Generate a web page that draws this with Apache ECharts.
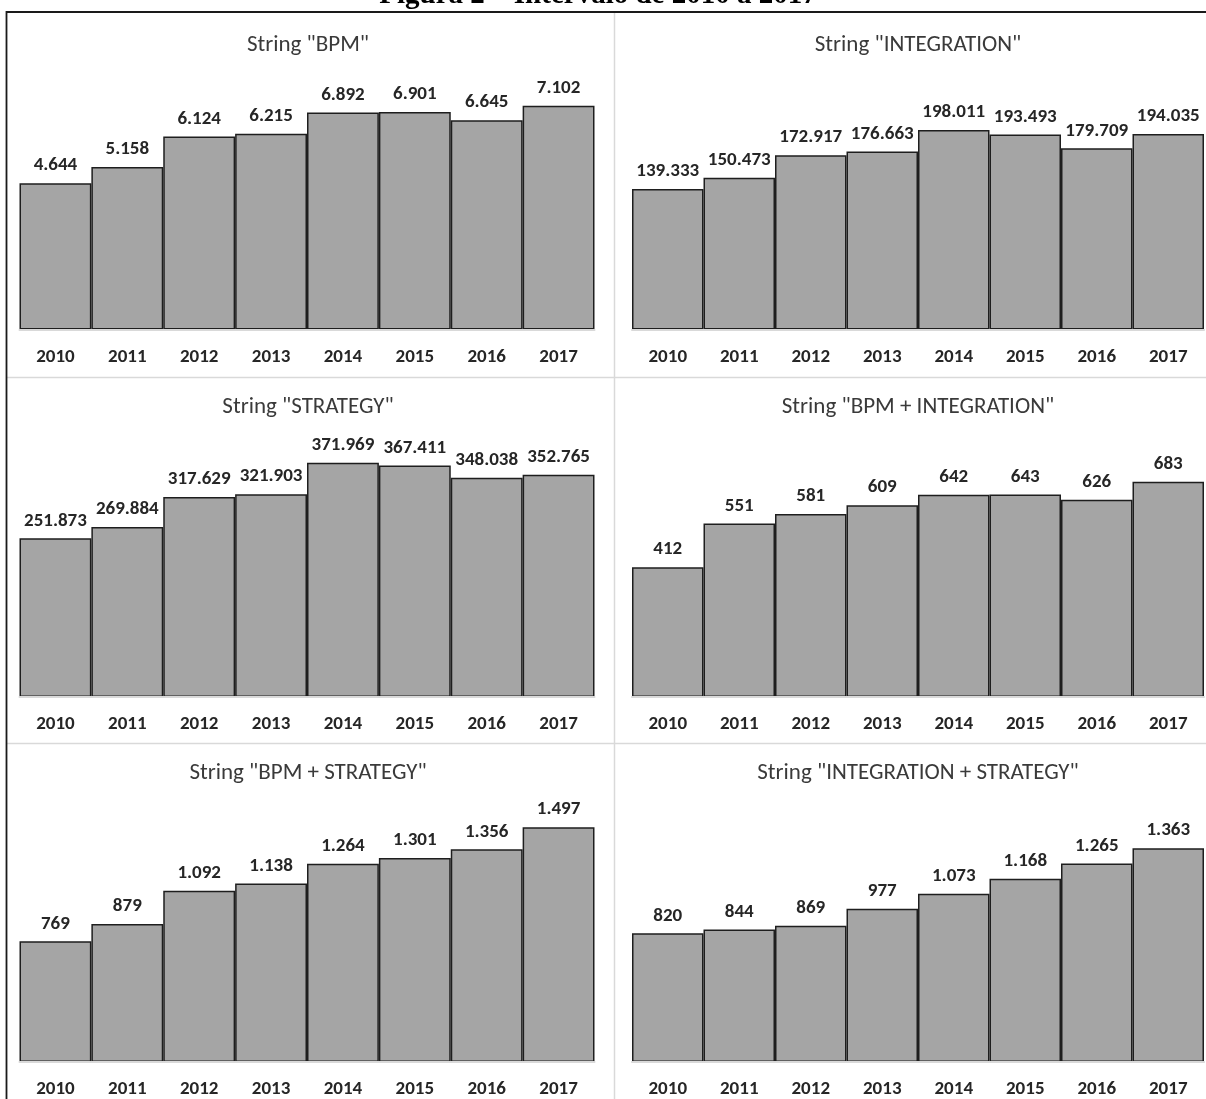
<!DOCTYPE html>
<html>
<head>
<meta charset="utf-8">
<script src="https://cdn.jsdelivr.net/npm/echarts@6/dist/echarts.min.js"></script>
<style>
  html, body { margin: 0; padding: 0; background: #fff; }
  #chart { width: 1206px; height: 1099px; }
</style>
</head>
<body>
<div id="chart"></div>
<script>
// Yearly hit counts for each search string, 2010-2017
const years = ['2010', '2011', '2012', '2013', '2014', '2015', '2016', '2017'];
const bpm = [4644, 5158, 6124, 6215, 6892, 6901, 6645, 7102];
const integration = [139333, 150473, 172917, 176663, 198011, 193493, 179709, 194035];
const strategy = [251873, 269884, 317629, 321903, 371969, 367411, 348038, 352765];
const bpmIntegration = [412, 551, 581, 609, 642, 643, 626, 683];
const bpmStrategy = [769, 879, 1092, 1138, 1264, 1301, 1356, 1497];
const integrationStrategy = [820, 844, 869, 977, 1073, 1168, 1265, 1363];

const panelTitles = [
  'String "BPM"',
  'String "INTEGRATION"',
  'String "STRATEGY"',
  'String "BPM + INTEGRATION"',
  'String "BPM + STRATEGY"',
  'String "INTEGRATION + STRATEGY"'
];
const panelSeries = [bpm, integration, strategy, bpmIntegration, bpmStrategy, integrationStrategy];
const axisMax = [8000, 250000, 400000, 800, 1600, 1600];

const caption = 'Figura 2 – Intervalo de 2010 a 2017';

// Plot rectangles for the 3 x 2 grid of panels (pixels)
const colLeft = [19.5, 632];
const colWidth = [575, 572];
const colCenter = [308, 918];
const rowTop = [77.5, 445, 811];
const rowTitleY = [45, 407, 773];
const plotHeight = 252;

const FONT = 'Carlito, Lato, "Open Sans", sans-serif';

// Thousands separated with '.', as in pt-BR
function fmt(n) {
  return String(n).replace(/\B(?=(\d{3})+(?!\d))/g, '.');
}

const grids = [], xAxes = [], yAxes = [], series = [], graphics = [];

panelSeries.forEach((data, i) => {
  const col = i % 2, row = Math.floor(i / 2);
  grids.push({
    left: colLeft[col], top: rowTop[row],
    width: colWidth[col], height: plotHeight,
    containLabel: false
  });
  xAxes.push({
    type: 'category', gridIndex: i, data: years, z: 3,
    axisLine: { show: true, lineStyle: { color: '#d9d9d9', width: 2 } },
    axisTick: { show: false },
    axisLabel: {
      margin: 18, color: '#262626', fontFamily: FONT,
      fontWeight: 'bold', fontSize: 19
    }
  });
  yAxes.push({
    type: 'value', gridIndex: i, min: 0, max: axisMax[i], show: false,
    splitLine: { show: false }
  });
  series.push({
    type: 'bar', xAxisIndex: i, yAxisIndex: i, data: data,
    barCategoryGap: 0, barGap: 0,
    itemStyle: { color: '#a5a5a5', borderColor: '#1e1e1e', borderWidth: 1.5 },
    label: {
      show: true, position: 'top', distance: 8,
      color: '#262626', fontFamily: FONT, fontWeight: 'bold', fontSize: 19,
      formatter: p => fmt(p.value)
    },
    emphasis: { disabled: true },
    animation: false
  });
  graphics.push({
    type: 'text', x: colCenter[col], y: rowTitleY[row], z: 10,
    style: {
      text: panelTitles[i], fill: '#3a3a3a', font: '23px ' + FONT,
      align: 'center', verticalAlign: 'middle'
    }
  });
});

// Panel borders (light gray dividers)
graphics.push(
  { type: 'line', z: 1, shape: { x1: 614.5, y1: 13, x2: 614.5, y2: 1099 },
    style: { stroke: '#d9d9d9', lineWidth: 1.5 } },
  { type: 'line', z: 1, shape: { x1: 7, y1: 377.5, x2: 1206, y2: 377.5 },
    style: { stroke: '#d9d9d9', lineWidth: 1.5 } },
  { type: 'line', z: 1, shape: { x1: 7, y1: 743.5, x2: 1206, y2: 743.5 },
    style: { stroke: '#d9d9d9', lineWidth: 1.5 } }
);

// Outer frame of the figure
graphics.push({
  type: 'rect', z: 5,
  shape: { x: 6.5, y: 12, width: 1220, height: 1120 },
  style: { fill: null, stroke: '#1a1a1a', lineWidth: 1.8 }
});

// Figure caption above the frame
graphics.push({
  type: 'text', x: 598, y: -4, z: 10,
  style: {
    text: caption, fill: '#000',
    font: 'bold 29px "Liberation Serif", "Times New Roman", serif',
    align: 'center', verticalAlign: 'middle'
  }
});

const chart = echarts.init(document.getElementById('chart'), null, { renderer: 'canvas' });
chart.setOption({
  backgroundColor: '#fff',
  animation: false,
  grid: grids,
  xAxis: xAxes,
  yAxis: yAxes,
  series: series,
  graphic: graphics
});
</script>
</body>
</html>
